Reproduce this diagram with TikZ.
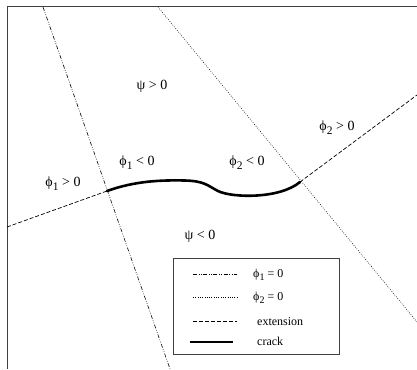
\documentclass[tikz,border=0pt]{standalone}
\usepackage{fontspec}
\setmainfont{Liberation Serif}
\newcommand{\phisub}[1]{ϕ\raisebox{-0.3em}{\fontsize{0.82\fontdimen6\font}{0}\selectfont #1}}
\newcommand{\phisubA}[1]{ϕ\raisebox{-0.3em}{\fontsize{11.5}{11.5}\selectfont #1}}
\newcommand{\phisubB}[1]{ϕ\raisebox{-0.3em}{\fontsize{10}{10}\selectfont #1}}
\begin{document}
\begin{tikzpicture}[x=1pt,y=-1pt,
  lbl/.style={font=\fontsize{14}{14}\selectfont, inner sep=0pt},
  keylbl/.style={font=\fontsize{12}{12}\selectfont, inner sep=0pt, anchor=west},
  phione/.style={line width=0.6pt, dash pattern=on 4pt off 1.6pt on 0.7pt off 1.6pt on 0.7pt off 1.6pt},
  phitwo/.style={line width=0.6pt, dash pattern=on 0.7pt off 1.6pt},
  ext/.style={line width=0.7pt, dash pattern=on 4pt off 2pt},
  crackline/.style={line width=2.6pt, line cap=round},
  frameline/.style={line width=1pt, black!75}]
\useasboundingbox (0,0) rectangle (417,369);
% frame
\coordinate (fTR) at (417,7);
\coordinate (fTL) at (7,7);
\coordinate (fBL) at (7,369);
\draw[frameline] (fTR) -- (fTL) -- (fBL);
% key points
\coordinate (A) at (107,191);
\coordinate (B) at (300,182);
\coordinate (p1s) at (43,7);
\coordinate (p1e) at (170,369);
\coordinate (p2s) at (158,7);
\coordinate (p2e) at (417,322);
\coordinate (eL) at (7,227);
\coordinate (eR) at (417,95);
% phi1 = 0
\draw[phione] (p1s) -- (p1e);
% phi2 = 0
\draw[phitwo] (p2s) -- (p2e);
% extensions
\draw[ext] (eL) -- (A);
\draw[ext] (B) -- (eR);
% crack
\draw[crackline] (A) .. controls (135,181) and (160,180) .. (185,180.5)
  .. controls (205,181) and (208,186) .. (218,191)
  .. controls (232,198) and (280,199) .. (B);
% labels
\node[lbl] (psip) at (152,86) {ψ > 0};
\node[lbl] (phi2p) at (337,128) {\phisubA{2} > 0};
\node[lbl] (phi1n) at (137,163) {\phisubA{1} < 0};
\node[lbl] (phi2n) at (247,163) {\phisubA{2} < 0};
\node[lbl] (phi1p) at (63,184) {\phisubA{1} > 0};
\node[lbl] (psin) at (200,236) {ψ < 0};
% legend
\node[draw=black!75, line width=1pt, minimum width=166pt, minimum height=96pt, inner sep=0pt] (legend) at (256,306) {};
\coordinate (l1a) at (193,274); \coordinate (l1b) at (237,274);
\coordinate (l2a) at (193,297); \coordinate (l2b) at (237,297);
\coordinate (l3a) at (193,321); \coordinate (l3b) at (237,321);
\coordinate (l4a) at (190,342); \coordinate (l4b) at (233,342);
\draw[phione] (l1a) -- (l1b);
\draw[phitwo] (l2a) -- (l2b);
\draw[ext] (l3a) -- (l3b);
\draw[crackline, line cap=butt] (l4a) -- (l4b);
\node[keylbl] (k1) at (253,275) {\phisubB{1} = 0};
\node[keylbl] (k2) at (253,298) {\phisubB{2} = 0};
\node[keylbl] (k3) at (257,322) {extension};
\node[keylbl] (k4) at (257,341) {crack};
\end{tikzpicture}
\end{document}
